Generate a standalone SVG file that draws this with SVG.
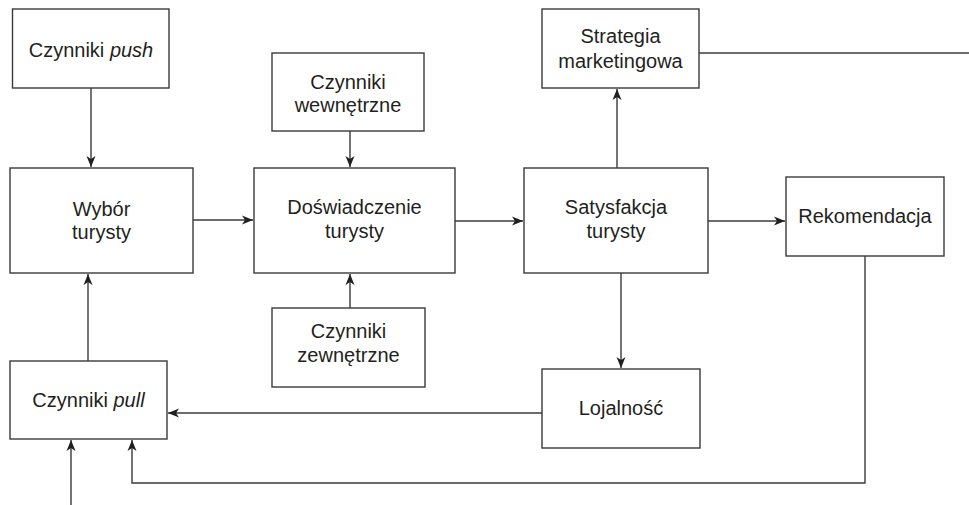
<svg xmlns="http://www.w3.org/2000/svg" width="969" height="505" viewBox="0 0 969 505">
<style>
.box{fill:#fff;stroke:#3a3a3a;stroke-width:1.4}
.t{font-family:"Liberation Sans",Arial,sans-serif;font-size:20px;fill:#231f20;text-anchor:middle}
.c{fill:none;stroke:#3a3a3a;stroke-width:1.4}
</style>
<defs>
<marker id="ah" markerUnits="userSpaceOnUse" markerWidth="12" markerHeight="10" refX="11" refY="5" orient="auto">
<path d="M0,0.5 L11,5 L0,9.5 L3,5 Z" fill="#231f20"/>
</marker>
</defs>
<rect width="969" height="505" fill="#fff"/>
<g id="connectors">
<line class="c" x1="91" y1="88" x2="91" y2="167" marker-end="url(#ah)"/>
<line class="c" x1="88" y1="361" x2="88" y2="274" marker-end="url(#ah)"/>
<line class="c" x1="193" y1="220" x2="253" y2="220" marker-end="url(#ah)"/>
<line class="c" x1="350" y1="131" x2="350" y2="167" marker-end="url(#ah)"/>
<line class="c" x1="350" y1="308" x2="350" y2="274" marker-end="url(#ah)"/>
<line class="c" x1="455" y1="221" x2="523" y2="221" marker-end="url(#ah)"/>
<line class="c" x1="617" y1="168" x2="617" y2="89" marker-end="url(#ah)"/>
<line class="c" x1="699" y1="53" x2="969" y2="53"/>
<line class="c" x1="708" y1="221" x2="785" y2="221" marker-end="url(#ah)"/>
<line class="c" x1="621" y1="273" x2="621" y2="368" marker-end="url(#ah)"/>
<line class="c" x1="542" y1="413" x2="168" y2="413" marker-end="url(#ah)"/>
<polyline class="c" points="865,256 865,483 132,483 132,440" marker-end="url(#ah)"/>
<line class="c" x1="71" y1="505" x2="71" y2="440" marker-end="url(#ah)"/>
</g>
<g id="push">
<rect class="box" x="12.5" y="9" width="156.5" height="79"/>
<text class="t" x="91" y="57">Czynniki <tspan font-style="italic">push</tspan></text>
</g>
<g id="wybor">
<rect class="box" x="10" y="168" width="183" height="105"/>
<text class="t" x="101.5" y="216">Wybór</text>
<text class="t" x="101.5" y="239">turysty</text>
</g>
<g id="pull">
<rect class="box" x="10" y="361" width="157" height="78"/>
<text class="t" x="88.5" y="407">Czynniki <tspan font-style="italic">pull</tspan></text>
</g>
<g id="wewnetrzne">
<rect class="box" x="272" y="53" width="152" height="78"/>
<text class="t" x="348" y="89">Czynniki</text>
<text class="t" x="348" y="112">wewnętrzne</text>
</g>
<g id="doswiadczenie">
<rect class="box" x="254" y="168" width="201" height="105"/>
<text class="t" x="354.5" y="214">Doświadczenie</text>
<text class="t" x="354.5" y="238">turysty</text>
</g>
<g id="zewnetrzne">
<rect class="box" x="272" y="308" width="153" height="79"/>
<text class="t" x="348.5" y="338">Czynniki</text>
<text class="t" x="348.5" y="362">zewnętrzne</text>
</g>
<g id="satysfakcja">
<rect class="box" x="524" y="168" width="184" height="105"/>
<text class="t" x="616" y="214">Satysfakcja</text>
<text class="t" x="616" y="238">turysty</text>
</g>
<g id="strategia">
<rect class="box" x="542" y="9" width="157" height="79"/>
<text class="t" x="620.5" y="43">Strategia</text>
<text class="t" x="620.5" y="68">marketingowa</text>
</g>
<g id="rekomendacja">
<rect class="box" x="786" y="177" width="158" height="79"/>
<text class="t" x="865" y="223">Rekomendacja</text>
</g>
<g id="lojalnosc">
<rect class="box" x="542" y="369" width="158" height="79"/>
<text class="t" x="621" y="415">Lojalność</text>
</g>
</svg>
